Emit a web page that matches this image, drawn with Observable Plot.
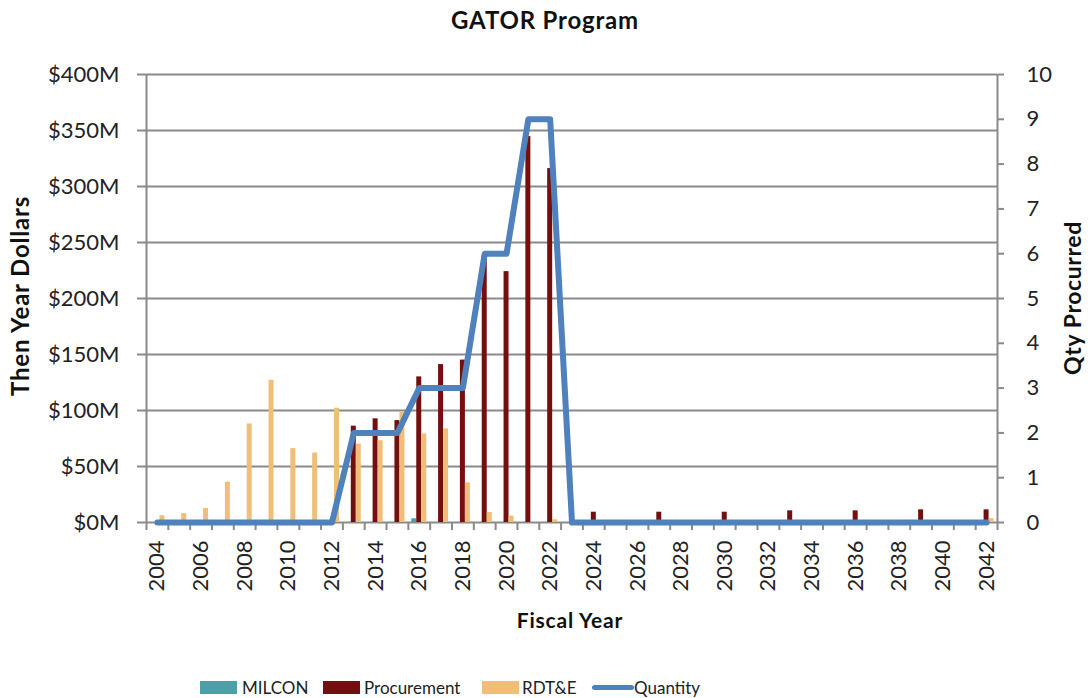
<!DOCTYPE html>
<html>
<head>
<meta charset="utf-8">
<script src="https://cdn.jsdelivr.net/npm/d3@7"></script>
<script src="https://cdn.jsdelivr.net/npm/@observablehq/plot@0.6"></script>
<style>
  html, body { margin: 0; padding: 0; background: #fff; }
  #wrap { position: relative; width: 1088px; height: 698px; font-family: Lato, "Open Sans", sans-serif; color: #222; overflow: hidden; }
  .abs { position: absolute; white-space: nowrap; line-height: 1; }
  .b { font-weight: bold; color: #111; }
  #chart { position: absolute; left: 0; top: 0; }
  .sw { position: absolute; }
</style>
</head>
<body>
<div id="wrap">
  <div id="chart"></div>
  <div class="abs b" style="left:0;width:1090px;text-align:center;top:8px;font-size:24px;letter-spacing:0.8px;">GATOR Program</div>
  <div class="abs b" style="left:20px;top:296px;font-size:24px;letter-spacing:0.8px;transform:translate(-50%,-50%) rotate(-90deg);">Then Year Dollars</div>
  <div class="abs b" style="left:1072px;top:298px;font-size:23px;letter-spacing:0.6px;transform:translate(-50%,-50%) rotate(-90deg);">Qty Procurred</div>
  <div class="abs b" style="left:570px;top:619px;font-size:21px;letter-spacing:0.8px;transform:translate(-50%,-50%);">Fiscal Year</div>
  <div id="legend"></div>
</div>
<script>
// ---- Data ----
const years = [2004,2005,2006,2007,2008,2009,2010,2011,2012,2013,2014,2015,2016,2017,2018,2019,2020,2021,2022,2023,
               2024,2025,2026,2027,2028,2029,2030,2031,2032,2033,2034,2035,2036,2037,2038,2039,2040,2041,2042];
// $M, then-year dollars
const milcon = [0,0,0,0,0,0,0,0,0,0,0,0,3.3,0,0,0,0,0,0,0,
                0,0,0,0,0,0,0,0,0,0,0,0,0,0,0,0,0,0,0];
const procurement = [0,0,0,0,0,0,0,0,0,86,92.6,91,130,141,145,238,224,344.6,316,0,
                     9.2,0,0,9.2,0,0,9.2,0,0,10.4,0,0,10.4,0,0,11.3,0,0,11.3];
const rdte = [6,8,12.5,36,88,127,66,62,102,70,73,98.5,79,83.6,35.4,9,5.7,0.5,2.4,0,
              0,0,0,0,0,0,0,0,0,0,0,0,1,0,1.5,0,1.5,0,3.5];
const quantity = [0,0,0,0,0,0,0,0,0,2,2,2,3,3,3,6,6,9,9,0,
                  0,0,0,0,0,0,0,0,0,0,0,0,0,0,0,0,0,0,0];
const seriesNames = ["MILCON", "Procurement", "RDT&E", "Quantity"];
const dollarTicks = [0,50,100,150,200,250,300,350,400];
const qtyTicks = [0,1,2,3,4,5,6,7,8,9,10];
const yearLabels = [2004,2006,2008,2010,2012,2014,2016,2018,2020,2022,2024,2026,2028,2030,2032,2034,2036,2038,2040,2042];

// ---- Styles ----
const colors = {"MILCON": "#4F9DA6", "Procurement": "#73100F", "RDT&E": "#F0BE78", "Quantity": "#4F81BD"};
const grid = "#8a8a8a";
const qtyMax = 10, dollarMax = 400, qScale = dollarMax / qtyMax;

const barRows = [];
years.forEach((y, i) => {
  barRows.push({year: y, series: "MILCON", value: milcon[i]});
  barRows.push({year: y, series: "Procurement", value: procurement[i]});
  barRows.push({year: y, series: "RDT&E", value: rdte[i]});
});
const qRows = years.map((y, i) => ({year: y, q: quantity[i]}));
const offsets = {"MILCON": -5, "Procurement": 0, "RDT&E": 5};

const W = 1088, H = 650;
const mL = 146, mR = 91, mT = 74, mB = 128;
const bandPx = (W - mL - mR) / years.length;
const inset = (bandPx - 5) / 2;

const boundaries = years.map(y => y - 0.5).concat([years[years.length - 1] + 0.5]);

const barMarks = ["MILCON", "Procurement", "RDT&E"].map(s =>
  Plot.rectY(barRows.filter(d => d.series === s && d.value > 0), {
    x1: d => d.year - 0.5, x2: d => d.year + 0.5, y: "value",
    insetLeft: inset, insetRight: inset, dx: offsets[s], fill: colors[s]
  })
);

const chart = Plot.plot({
  width: W, height: H,
  marginLeft: mL, marginRight: mR, marginTop: mT, marginBottom: mB,
  style: {fontFamily: "Lato, 'Open Sans', sans-serif", fontSize: "22px", color: "#222", background: "transparent"},
  x: {type: "linear", domain: [years[0] - 0.5, years[years.length - 1] + 0.5]},
  y: {type: "linear", domain: [0, dollarMax]},
  marks: [
    Plot.ruleY(dollarTicks, {stroke: grid, strokeWidth: 2}),
    Plot.ruleX([boundaries[0], boundaries[boundaries.length - 1]], {stroke: grid, strokeWidth: 2}),
    Plot.axisY({ticks: dollarTicks, tickFormat: d => `$${d}M`, tickSize: 9, tickPadding: 18, stroke: grid, strokeWidth: 2, label: null, fill: "#222"}),
    Plot.axisY({anchor: "right", ticks: qtyTicks.map(q => q * qScale), tickFormat: d => String(d / qScale), tickSize: 6, tickPadding: 23, stroke: grid, strokeWidth: 2, label: null, fill: "#222"}),
    Plot.axisX({ticks: boundaries, tickFormat: () => "", tickSize: 8, stroke: grid, strokeWidth: 2, label: null}),
    Plot.axisX({ticks: yearLabels, tickFormat: d => String(d), tickSize: 0, tickPadding: 18, tickRotate: -90, label: null, fill: "#222"}),
    ...barMarks,
    Plot.line(qRows, {x: "year", y: d => d.q * qScale, stroke: colors["Quantity"], strokeWidth: 6, strokeLinejoin: "round", strokeLinecap: "round"})
  ]
});
document.getElementById("chart").appendChild(chart);

// ---- Legend ----
const legend = document.getElementById("legend");
const legendItems = [
  {name: seriesNames[0], sx: 200, tx: 242, kind: "box"},
  {name: seriesNames[1], sx: 323, tx: 364, kind: "box"},
  {name: seriesNames[2], sx: 482, tx: 522, kind: "box"},
  {name: seriesNames[3], sx: 592, tx: 634, kind: "line"}
];
legendItems.forEach(it => {
  const sw = document.createElement("div");
  sw.className = "sw";
  if (it.kind === "box") {
    Object.assign(sw.style, {left: it.sx + "px", top: "681px", width: "37px", height: "13px", background: colors[it.name]});
  } else {
    Object.assign(sw.style, {left: it.sx + "px", top: "685px", width: "42px", height: "5px", borderRadius: "3px", background: colors[it.name]});
  }
  legend.appendChild(sw);
  const t = document.createElement("div");
  t.className = "abs";
  Object.assign(t.style, {left: it.tx + "px", top: "679px", fontSize: "17px", color: "#222"});
  t.textContent = it.name;
  legend.appendChild(t);
});
</script>
</body>
</html>
